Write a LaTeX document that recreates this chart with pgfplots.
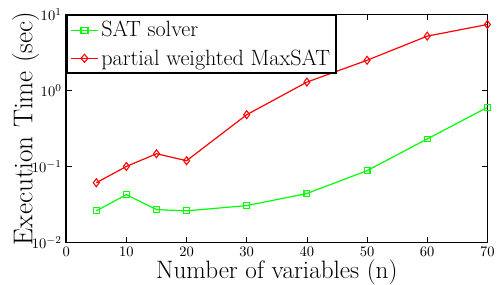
\documentclass[border=0pt]{standalone}
\usepackage{pgfplots}
\pgfplotsset{compat=1.18}
\usetikzlibrary{calc}
\begin{document}
\begin{tikzpicture}
\begin{axis}[
  name=ax,
  scale only axis,
  width=318pt, height=172pt,
  xmin=0, xmax=70, ymin=0.01, ymax=10,
  ymode=log,
  xtick={0,10,20,30,40,50,60,70},
  ytick={0.01,0.1,1,10},
  log basis y=10,
  tick label style={font=\fontsize{11}{13}\selectfont},
  xlabel={Number of variables (n)},
  ylabel={Execution Time (sec)},
  xlabel style={font=\fontsize{19}{21}\selectfont, at={(axis description cs:0.5,-0.157)}, anchor=base, inner sep=1pt},
  ylabel style={font=\fontsize{20.5}{24}\selectfont, at={(axis description cs:-0.0802,0.5)}, anchor=base},
  axis line style={line width=1.1pt},
  tick style={black, thin},
  legend style={at={(0,1)}, anchor=north west, draw=black, line width=1.2pt, font=\fontsize{16.7}{19}\selectfont, inner sep=2.5pt, row sep=4pt, cells={anchor=west}},
  legend cell align=left,
  legend image post style={xscale=1.2},
]
\addplot[green, line width=0.9pt, mark=square, mark size=2.2pt, mark options={solid, line width=0.8pt}] coordinates {
(5,0.026) (10,0.0425) (15,0.027) (20,0.026) (30,0.0305) (40,0.044) (50,0.088) (60,0.23) (70,0.6)
};
\addlegendentry{SAT solver}
\addplot[red, line width=0.9pt, mark=diamond, mark size=3pt, mark options={solid, line width=0.8pt}] coordinates {
(5,0.061) (10,0.10) (15,0.147) (20,0.119) (30,0.48) (40,1.29) (50,2.5) (60,5.2) (70,7.4)
};
\addlegendentry{partial weighted MaxSAT}
\end{axis}
\pgfresetboundingbox
\path ($(ax.south west)+(-50pt,-32pt)$) rectangle ($(ax.north east)+(8pt,11pt)$);
\end{tikzpicture}
\end{document}
